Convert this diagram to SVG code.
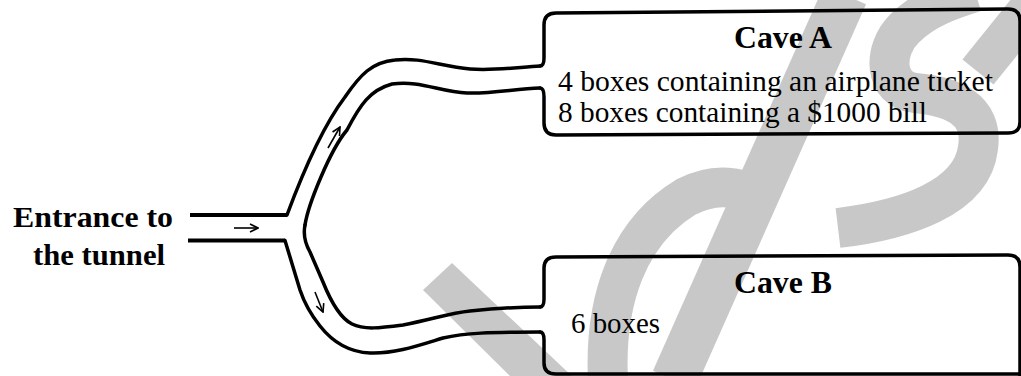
<svg xmlns="http://www.w3.org/2000/svg" width="1021" height="376" viewBox="0 0 1021 376">
  <style>
    .wm { fill: none; stroke: #c8c8c8; stroke-width: 40; }
    .wmf { fill: #c8c8c8; stroke: none; }
    .wall { fill: none; stroke: #000; stroke-width: 3.5; stroke-linecap: round; stroke-linejoin: round; }
    .ent { fill: none; stroke: #000; stroke-width: 4; }
    .arr { fill: none; stroke: #000; stroke-width: 1.6; marker-end: url(#head); }
    .lbl { font-family: "Liberation Serif", "Times New Roman", serif; fill: #000; }
    .b { font-weight: bold; }
  </style>
  <defs>
    <marker id="head" viewBox="0 0 10 10" refX="9" refY="5" markerUnits="userSpaceOnUse" markerWidth="10" markerHeight="10" orient="auto">
      <path d="M1,1 L9,5 L1,9" fill="none" stroke="#000" stroke-width="1.6"/>
    </marker>
  </defs>

  <g id="watermark">
    <polygon class="wmf" points="423,290 452,263 574,378 512,378"/>
    <path class="wm" d="M608,380 C604,300 628,232 686,197 C715,182 742,186 762,200"/>
    <path class="wm" d="M674,380 L845,-5" style="stroke-width:46"/>
    <path class="wm" d="M838,228 C905,220 972,198 978,148 C984,108 950,96 915,93 C884,90 882,50 905,28 C925,8 950,0 975,-8"/>
    <path class="wm" d="M978,72 L1032,5"/>
  </g>

  <g id="connectors">
    <path class="ent" d="M190,215 L287,215"/>
    <path class="ent" d="M188,240.5 L285,240.5"/>
    <path class="wall" d="M287,215 C300,180 320,130 345,97 C360,75 372,62 395,60 C420,57 440,66 470,69 C495,71 520,67 540,66"/>
    <path class="wall" d="M305,225 C308,205 330,150 347,130 C360,105 370,90 392,84 C420,80 440,92 467,93 C490,94 515,89 540,88"/>
    <path class="wall" d="M305,225 C303,235 306,245 310,252 L323,282 C331,302 340,318 352,324 C364,330 380,328 403,325 C430,320 450,313 470,311 C490,309 515,307 540,307"/>
    <path class="wall" d="M285,240.5 L300,290 C305,305 312,316 320,326 C331,340 346,352 370,353 C395,354 420,345 443,338 C465,333 490,332 540,332"/>
    <path class="arr" d="M234,228 L258,228"/>
    <path class="arr" d="M328,148 L340,127"/>
    <path class="arr" d="M315,292 L323,312"/>
  </g>

  <g id="entrance">
    <text class="lbl b" x="13" y="227" font-size="30" textLength="160" lengthAdjust="spacingAndGlyphs">Entrance to</text>
    <text class="lbl b" x="33" y="265" font-size="30" textLength="132" lengthAdjust="spacingAndGlyphs">the tunnel</text>
  </g>

  <g id="caveA">
    <path class="wall" d="M540,66 Q544,66 544,58 L544,25 Q544,13 556,13 L1008,9 Q1020,9 1020,21 L1020,122 Q1020,133 1008,133 L556,135 Q544,135 544,123 L544,97 Q544,88 540,88"/>
    <text class="lbl b" x="734" y="48" font-size="32" textLength="98" lengthAdjust="spacingAndGlyphs">Cave A</text>
    <text class="lbl" x="558" y="91" font-size="29.5" textLength="435" lengthAdjust="spacingAndGlyphs">4 boxes containing an airplane ticket</text>
    <text class="lbl" x="558" y="122" font-size="29.5" textLength="369" lengthAdjust="spacingAndGlyphs">8 boxes containing a $1000 bill</text>
  </g>

  <g id="caveB">
    <path class="wall" d="M540,307 Q544,307 544,299 L544,268 Q544,257 556,257 L1008,255 Q1020,255 1020,267 L1020,380 M1020,374 L556,374 Q544,374 544,363 L544,340 Q544,332 540,332"/>
    <text class="lbl b" x="734" y="293" font-size="32" textLength="98" lengthAdjust="spacingAndGlyphs">Cave B</text>
    <text class="lbl" x="571" y="333" font-size="29.5" textLength="89" lengthAdjust="spacingAndGlyphs">6 boxes</text>
  </g>
</svg>
